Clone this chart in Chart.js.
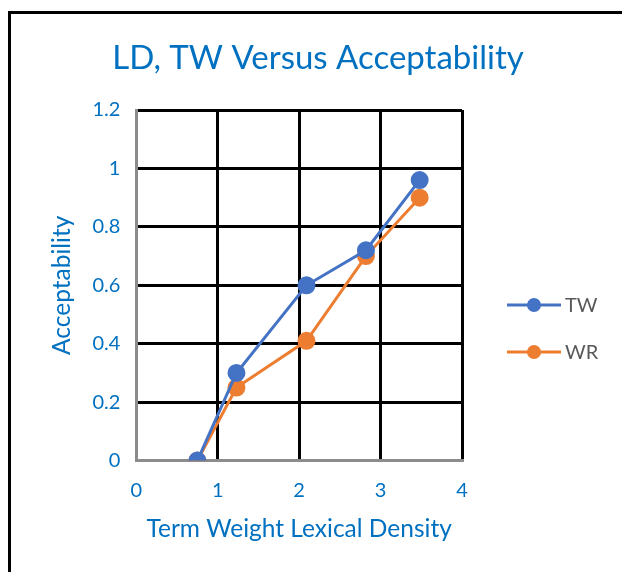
<!DOCTYPE html>
<html>
<head>
<meta charset="utf-8">
<script src="https://cdn.jsdelivr.net/npm/chart.js@4"></script>
<style>
  html, body { margin: 0; padding: 0; background: #fff; }
  #wrap { width: 622px; height: 572px; }
</style>
</head>
<body>
<div id="wrap"><canvas id="c" width="622" height="572"></canvas></div>
<script>
// values
const xValues = [0.75, 1.23, 2.09, 2.82, 3.48];
const twValues = [0, 0.3, 0.6, 0.72, 0.96];
const wrValues = [0, 0.25, 0.41, 0.7, 0.9];
const seriesNames = ['TW', 'WR'];
const chartTitle = 'LD, TW Versus Acceptability';

const blue = '#4472C4';
const orange = '#ED7D31';
const textBlue = '#0070C0';
const FONT = 'Lato, "Open Sans", sans-serif';

const toPoints = ys => xValues.map((x, i) => ({ x: x, y: ys[i] }));

// frame lines (left and top edge of the picture) + title centred on the whole canvas
const framePlugin = {
  id: 'frame',
  beforeDraw(chart) {
    const ctx = chart.ctx;
    ctx.save();
    ctx.fillStyle = '#fff';
    ctx.fillRect(0, 0, chart.width, chart.height);
    ctx.strokeStyle = '#000';
    ctx.lineWidth = 3;
    ctx.beginPath();
    ctx.moveTo(9.5, chart.height);
    ctx.lineTo(9.5, 12.5);
    ctx.lineTo(chart.width, 12.5);
    ctx.stroke();
    ctx.fillStyle = textBlue;
    ctx.font = '33px ' + FONT;
    ctx.textAlign = 'center';
    ctx.textBaseline = 'middle';
    ctx.fillText(chartTitle, 318, 58);
    ctx.restore();
  }
};

// legend drawn like the original: line with a dot in the middle
const legendPlugin = {
  id: 'lineLegend',
  afterDraw(chart) {
    const ctx = chart.ctx;
    ctx.save();
    chart.data.datasets.forEach((ds, i) => {
      const y = 305 + i * 47;
      ctx.strokeStyle = ds.borderColor;
      ctx.lineWidth = 3;
      ctx.beginPath();
      ctx.moveTo(507, y);
      ctx.lineTo(561, y);
      ctx.stroke();
      ctx.fillStyle = ds.backgroundColor;
      ctx.beginPath();
      ctx.arc(534, y, 7, 0, Math.PI * 2);
      ctx.fill();
      ctx.fillStyle = '#595959';
      ctx.font = '20px ' + FONT;
      ctx.textBaseline = 'middle';
      ctx.fillText(ds.label, 565, y + 1);
    });
    ctx.restore();
  }
};

new Chart(document.getElementById('c'), {
  type: 'line',
  data: {
    datasets: [
      {
        label: seriesNames[0],
        data: toPoints(twValues),
        borderColor: blue,
        backgroundColor: blue,
        borderWidth: 3,
        pointRadius: 7.5,
        pointHoverRadius: 7.5,
        tension: 0
      },
      {
        label: seriesNames[1],
        data: toPoints(wrValues),
        borderColor: orange,
        backgroundColor: orange,
        borderWidth: 3,
        pointRadius: 7.5,
        pointHoverRadius: 7.5,
        tension: 0
      }
    ]
  },
  options: {
    responsive: false,
    animation: false,
    layout: { padding: { left: 47, right: 160, top: 110, bottom: 28 } },
    plugins: {
      legend: { display: false },
      tooltip: { enabled: false },
      title: { display: false }
    },
    scales: {
      x: {
        type: 'linear',
        min: 0,
        max: 4,
        ticks: {
          stepSize: 1,
          color: textBlue,
          font: { family: FONT, size: 20 },
          padding: 18
        },
        grid: { color: '#000', lineWidth: 3, drawTicks: false },
        border: { color: '#8c8c8c', width: 3 },
        title: {
          display: true,
          text: 'Term Weight Lexical Density',
          color: textBlue,
          font: { family: FONT, size: 24.5 },
          padding: { top: -6, bottom: 0 }
        }
      },
      y: {
        min: 0,
        max: 1.2,
        ticks: {
          stepSize: 0.2,
          color: textBlue,
          font: { family: FONT, size: 20 },
          padding: 16,
          callback: v => Math.round(v * 10) / 10
        },
        grid: { color: '#000', lineWidth: 3, drawTicks: false },
        border: { color: '#8c8c8c', width: 3 },
        title: {
          display: true,
          text: 'Acceptability',
          color: textBlue,
          font: { family: FONT, size: 24.5 },
          padding: { top: 0, bottom: 0 }
        }
      }
    }
  },
  plugins: [framePlugin, legendPlugin]
});
</script>
</body>
</html>
